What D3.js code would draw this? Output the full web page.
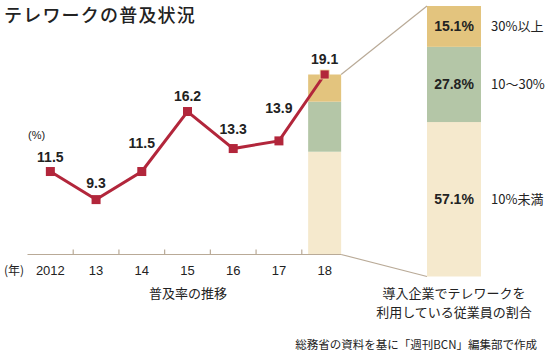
<!DOCTYPE html>
<html><head><meta charset="utf-8">
<script src="https://cdn.jsdelivr.net/npm/d3@7"></script>
<style>
body{margin:0;background:#fff;}
svg{display:block;font-family:"Liberation Sans","Noto Sans CJK JP",sans-serif;}
.jp{font-family:"Noto Sans CJK JP","Liberation Sans",sans-serif;}
</style></head>
<body>
<svg id="c" width="550" height="357"></svg>
<script>
// ---- data ----
const years = ["2012","13","14","15","16","17","18"];
const rates = [11.5, 9.3, 11.5, 16.2, 13.3, 13.9, 19.1];
const shareLabels = ["10%未満", "10〜30%", "30%以上"];
const shares = [57.1, 27.8, 15.1];
const title = "テレワークの普及状況";
const source = "総務省の資料を基に「週刊BCN」編集部で作成";

// ---- layout/style (not data) ----
const labelLift = [10, 12, 24, 11, 15, 28, 11];
const red = "#b2263b";
const segColors = ["#f5e9cd", "#b4c6a7", "#e3c47e"];
const axisColor = "#b9aa97";

const svg = d3.select("#c");

const x = d3.scaleBand().domain(years).range([27.5, 347.5]).paddingInner(0.3).paddingOuter(0.15);
const xc = d => x(d) + x.bandwidth() / 2;
const y = d3.scaleLinear().domain([5, 19.1]).range([254.5, 74.5]);

// title
svg.append("text").attr("class","jp").attr("x",4).attr("y",22)
  .attr("font-size",18).attr("font-weight",500).attr("letter-spacing",1.2).attr("fill","#222").text(title);

// stacked bar in 2012-18 chart (proportional from axis to 19.1)
const lastYear = years[years.length-1];
const lastRate = rates[rates.length-1];
const stack = [];
let acc = 0;
shares.forEach((s,i)=>{ stack.push({s, i, a: acc, b: acc + s}); acc += s; });
const total = acc;
const yBar = d3.scaleLinear().domain([0,total]).range([y(y.domain()[0]), y(lastRate)]);
const bx0 = xc(lastYear) - 16.5, bw = 33;
svg.append("g").selectAll("rect").data(stack).join("rect")
  .attr("x", bx0).attr("width", bw)
  .attr("y", d => yBar(d.b)).attr("height", d => yBar(d.a) - yBar(d.b))
  .attr("fill", d => segColors[d.i]);

// zoomed bar
const zx = 427, zw = 54;
const yZ = d3.scaleLinear().domain([0,total]).range([276.5, 6]);
svg.append("g").selectAll("rect").data(stack).join("rect")
  .attr("x", zx).attr("width", zw)
  .attr("y", d => yZ(d.b)).attr("height", d => yZ(d.a) - yZ(d.b))
  .attr("fill", d => segColors[d.i]);

// connector lines
svg.append("line").attr("x1", bx0 + bw).attr("y1", yBar(total)).attr("x2", zx).attr("y2", yZ(total))
  .attr("stroke", axisColor).attr("stroke-width", 1.2);
svg.append("line").attr("x1", bx0 + bw).attr("y1", yBar(0)).attr("x2", zx).attr("y2", yZ(0))
  .attr("stroke", axisColor).attr("stroke-width", 1.2);

// zoomed bar labels
svg.append("g").selectAll("text").data(stack).join("text")
  .attr("x", zx + zw/2).attr("y", d => (yZ(d.a)+yZ(d.b))/2 + 5)
  .attr("text-anchor","middle").attr("font-size",14).attr("font-weight","bold").attr("fill","#222")
  .text(d => d3.format(".1f")(d.s) + "%");
svg.append("g").selectAll("text").data(stack).join("text")
  .attr("class","jp")
  .attr("x", 491).attr("y", d => (yZ(d.a)+yZ(d.b))/2 + 5)
  .attr("font-size",13).attr("fill","#222")
  .text(d => shareLabels[d.i]);

// x axis
const axisY = y(y.domain()[0]);
svg.append("line").attr("x1", 27.5).attr("x2", bx0 + bw).attr("y1", axisY).attr("y2", axisY)
  .attr("stroke", axisColor).attr("stroke-width", 1.2);
svg.append("g").selectAll("line").data(years.slice(1)).join("line")
  .attr("x1", d => x(d) - x.step()*x.paddingInner()/2).attr("x2", d => x(d) - x.step()*x.paddingInner()/2)
  .attr("y1", axisY - 5).attr("y2", axisY)
  .attr("stroke", axisColor).attr("stroke-width", 1.2);
svg.append("g").selectAll("text").data(years).join("text")
  .attr("x", d => xc(d)).attr("y", 275).attr("text-anchor","middle")
  .attr("font-size",13).attr("fill","#222").text(d => d);
svg.append("text").attr("class","jp").attr("x",4).attr("y",275).attr("font-size",12).attr("fill","#222").text("(年)");
svg.append("text").attr("x",28).attr("y",139).attr("font-size",11).attr("fill","#222").text("(%)");

// line
const pts = years.map((d,i)=>({d, v: rates[i], i}));
svg.append("path").datum(pts)
  .attr("d", d3.line().x(p => xc(p.d)).y(p => y(p.v)))
  .attr("fill","none").attr("stroke", red).attr("stroke-width", 3).attr("stroke-linejoin","miter");
svg.append("g").selectAll("rect").data(pts).join("rect")
  .attr("x", p => xc(p.d) - 4.5).attr("y", p => y(p.v) - 4.5)
  .attr("width", 9).attr("height", 9).attr("fill", red)
  .attr("stroke", p => p.i === pts.length-1 ? "#f3dfa0" : "none").attr("stroke-width", 0.8);
svg.append("g").selectAll("text").data(pts).join("text")
  .attr("x", p => xc(p.d)).attr("y", p => y(p.v) - labelLift[p.i])
  .attr("text-anchor","middle").attr("font-size",14).attr("font-weight","bold").attr("fill","#222")
  .text(p => d3.format(".1f")(p.v));

// captions
svg.append("text").attr("class","jp").attr("x",188).attr("y",298).attr("text-anchor","middle")
  .attr("font-size",13).attr("fill","#222").text("普及率の推移");
svg.append("text").attr("class","jp").attr("x",454).attr("y",298).attr("text-anchor","middle")
  .attr("font-size",13).attr("fill","#222").text("導入企業でテレワークを");
svg.append("text").attr("class","jp").attr("x",454).attr("y",317).attr("text-anchor","middle")
  .attr("font-size",13).attr("fill","#222").text("利用している従業員の割合");
svg.append("text").attr("class","jp").attr("x",537).attr("y",349).attr("text-anchor","end")
  .attr("font-size",11.5).attr("fill","#222").text(source);
</script>
</body></html>
